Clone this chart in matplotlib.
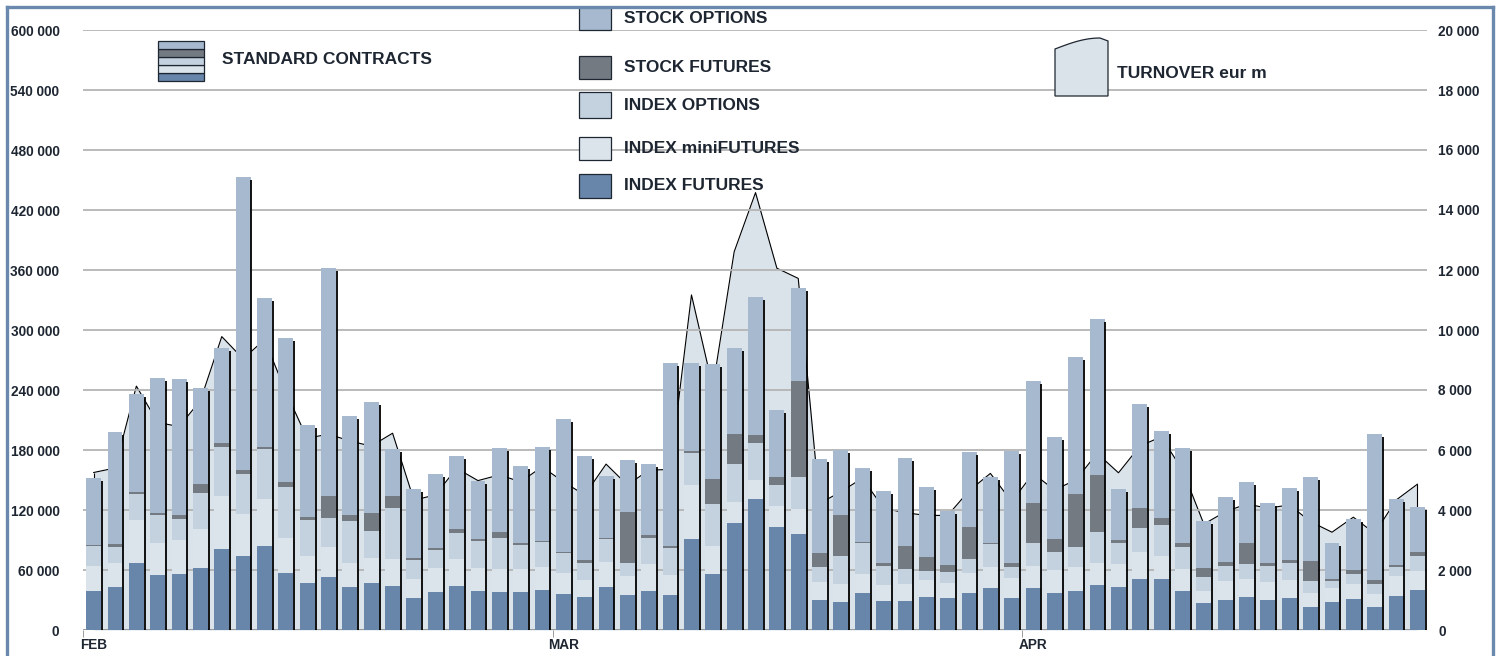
import matplotlib
matplotlib.use('Agg')
import matplotlib.pyplot as plt
from matplotlib.patches import Rectangle, Polygon
from matplotlib.lines import Line2D
import numpy as np

# daily standard contracts per product, Feb-Apr (63 trading days)
index_futures = [39300, 42700, 67300, 55000, 56000, 61700, 81000, 74000, 84300, 56700,
                 46700, 52700, 42700, 46700, 44000, 32000, 37700, 43700, 38700, 37700,
                 37700, 40000, 36000, 32700, 42700, 35000, 39300, 35000, 91000, 55700,
                 106700, 130700, 103300, 96000, 30000, 27700, 36700, 29300, 29300, 32700,
                 31700, 37300, 42300, 32300, 42300, 37300, 39000, 45000, 43300, 51000,
                 50700, 39300, 27300, 30000, 33300, 30000, 31700, 23300, 28300, 30700,
                 23300, 34000, 40000]
index_minifutures = [25000, 24600, 42400, 31700, 34000, 39000, 53300, 41700, 46400, 35600,
                     27600, 30000, 24000, 25000, 26700, 18700, 24000, 27000, 23300, 23000,
                     23000, 22700, 20700, 17300, 25000, 19300, 26400, 20000, 54000, 28600,
                     21000, 19300, 20700, 24700, 17700, 18000, 19000, 15700, 16700, 17300,
                     15000, 19400, 21000, 19400, 21700, 22700, 23700, 21700, 22400, 26700,
                     23300, 21400, 12000, 19000, 17400, 17700, 18300, 13400, 13400, 15300,
                     12400, 20000, 19300]
index_options = [19700, 16000, 26300, 28300, 20700, 36000, 48400, 40000, 50000, 50400,
                 35700, 29600, 42600, 27600, 51000, 19300, 18000, 26600, 27000, 31600,
                 24300, 25000, 20000, 16700, 23000, 13000, 26600, 26700, 31700, 41400,
                 38600, 36700, 20700, 32600, 15600, 28300, 31000, 19300, 14700, 9000,
                 11600, 14600, 22400, 11600, 23300, 17700, 20000, 31000, 21600, 24000,
                 31000, 22600, 13400, 15300, 15300, 16600, 17300, 12300, 7600, 9700,
                 10000, 9300, 15000]
stock_futures = [1300, 2700, 2000, 2300, 4300, 9300, 4000, 4300, 2600, 5000,
                 3000, 21700, 5700, 18000, 12300, 2300, 2600, 3700, 2000, 5700,
                 1700, 1600, 1600, 3300, 1600, 50700, 2700, 2300, 2300, 25300,
                 29700, 8300, 8000, 96000, 14000, 41000, 1600, 2400, 23600, 14300,
                 6700, 31400, 1600, 3400, 40000, 13000, 53300, 57300, 2700, 20600,
                 7300, 4000, 9000, 3400, 20700, 3000, 2700, 20300, 1700, 4300,
                 4300, 1700, 3400]
stock_options = [66400, 111700, 97700, 134400, 135700, 95700, 95600, 293300, 149000, 144000,
                 91700, 228300, 99000, 110400, 46700, 68700, 73700, 73300, 58000, 83700,
                 77300, 93400, 132400, 104000, 61700, 52000, 70700, 182700, 87700, 115000,
                 85700, 138000, 67300, 93000, 93400, 65000, 74000, 72600, 88000, 69400,
                 54000, 75300, 66000, 112600, 121700, 102600, 136700, 156300, 51000, 104000,
                 86700, 94400, 47600, 65000, 61600, 60000, 71700, 83400, 35700, 51000,
                 146000, 66000, 45300]
# daily turnover, eur m (right axis)
turnover = [5250, 5400, 8130, 6920, 6780, 7650, 9780, 9040, 9680, 7940,
            6390, 6530, 6300, 6130, 6560, 4330, 4500, 5390, 4980, 5170,
            4940, 5440, 4940, 4500, 5530, 4830, 5330, 5350, 11170, 8090,
            12610, 14580, 12060, 11720, 4220, 4610, 5060, 4060, 3910, 3820,
            3820, 4640, 5220, 4280, 5220, 4670, 5000, 5890, 5240, 6130,
            6440, 5330, 3530, 3940, 4200, 4060, 4170, 3610, 3260, 3760,
            3220, 4330, 4860]
month_labels = ['FEB', 'MAR', 'APR']
month_first_day = [0, 22, 44]

series = [index_futures, index_minifutures, index_options, stock_futures, stock_options]
colors = ['#6886aa', '#dbe3eb', '#c4d2df', '#737a82', '#a7b9ce']
names = ['INDEX FUTURES', 'INDEX miniFUTURES', 'INDEX OPTIONS', 'STOCK FUTURES', 'STOCK OPTIONS']
txt = '#1e2632'
fam = ['Liberation Sans', 'DejaVu Sans']

W, H = 1501, 656
fig = plt.figure(figsize=(W / 100, H / 100), dpi=100)

def fx(x):
    return x / W

def fy(y):
    return 1 - y / H

rect = [fx(83), fy(630), (1427 - 83) / W, 600 / H]
ax2 = fig.add_axes(rect)
ax = fig.add_axes(rect)
ax.set_zorder(ax2.get_zorder() + 1)
ax.patch.set_visible(False)

x = np.arange(len(turnover))
n = len(x)

# turnover area, behind the bars
ax2.fill_between(x, turnover, color='#dae2ea', lw=0, zorder=1)
ax2.plot(x, turnover, color='black', lw=0.8, zorder=1.2)
ax2.vlines([x[0], x[-1]], 0, [turnover[0], turnover[-1]], color='black', lw=0.8, zorder=1.2)
for g in range(2000, 20001, 2000):
    ax2.axhline(g, color='#b4b4b4', lw=1.3, zorder=2)
ax2.set_ylim(0, 20000)
ax2.set_xlim(-0.5, n - 0.55)
ax2.set_yticks(range(0, 20001, 2000))
ax2.set_yticklabels([f'{v:,}'.replace(',', ' ') for v in range(0, 20001, 2000)])
ax2.yaxis.tick_right()
ax2.tick_params(axis='y', length=0, pad=8)
ax2.set_xticks([])
for s in ax2.spines.values():
    s.set_visible(False)

# stacked bars
bw = 0.70
bottom = np.zeros(n)
for vals, c in zip(series, colors):
    ax.bar(x, vals, bw, bottom=bottom, color=c, lw=0, zorder=2)
    bottom += np.array(vals)
ax.vlines(x + bw / 2 + 0.04, 0, bottom - 3000, color='black', lw=1.3, zorder=3)
ax.axhline(0, color='#8a8a8a', lw=1.2, zorder=1.5)

ax.set_ylim(0, 600000)
ax.set_xlim(-0.5, n - 0.55)
ax.set_yticks(range(0, 600001, 60000))
ax.set_yticklabels([f'{v:,}'.replace(',', ' ') for v in range(0, 600001, 60000)])
ax.tick_params(axis='y', length=0, pad=17)
ax.set_xticks(month_first_day)
ax.set_xticklabels(month_labels)
ax.set_xticks([m - 0.5 for m in month_first_day], minor=True)
ax.tick_params(axis='x', which='major', length=0, pad=6)
ax.tick_params(axis='x', which='minor', length=5, color='#8a8a8a')
for s in ax.spines.values():
    s.set_visible(False)

for a in (ax, ax2):
    for lab in a.get_xticklabels() + a.get_yticklabels():
        lab.set_fontfamily(fam)
        lab.set_fontweight('bold')
        lab.set_fontsize(9.8)
        lab.set_color(txt)

# legend: stacked icon for standard contracts
stripe_y = [73, 65, 57, 49, 41]
for yy, c in zip(stripe_y, colors):
    fig.add_artist(Rectangle((fx(158), fy(yy + 8)), 46 / W, 8 / H, transform=fig.transFigure,
                             facecolor=c, edgecolor=txt, lw=0.9))
fig.text(fx(222), fy(60), 'STANDARD CONTRACTS', family=fam, weight='bold', size=12.5,
         color=txt, va='center')

# legend: product swatches
sw = {'STOCK OPTIONS': (7, 30), 'STOCK FUTURES': (56, 79), 'INDEX OPTIONS': (92, 118),
      'INDEX miniFUTURES': (137, 160), 'INDEX FUTURES': (174, 198)}
for name, c in zip(names, colors):
    y0, y1 = sw[name]
    fig.add_artist(Rectangle((fx(579), fy(y1)), 32 / W, (y1 - y0) / H, transform=fig.transFigure,
                             facecolor=c, edgecolor=txt, lw=0.9))
    fig.text(fx(624), fy((y0 + y1) / 2), name, family=fam, weight='bold', size=12.5,
             color=txt, va='center')

# legend: turnover icon
t = np.linspace(0, 1, 20)
top = [(fx(1055 + 45 * u), fy(49 - 11 * np.sin(u * np.pi / 2))) for u in t]
pts = [(fx(1055), fy(96))] + top + [(fx(1108), fy(41)), (fx(1108), fy(96))]
fig.add_artist(Polygon(pts, closed=True, transform=fig.transFigure,
                       facecolor='#dae2ea', edgecolor=txt, lw=0.9))
fig.text(fx(1117), fy(74), 'TURNOVER eur m', family=fam, weight='bold', size=12.5,
         color=txt, va='center')

# outer frame
fc = '#6a89ad'
for xs, ys in [([7, 7], [7, 660]), ([7, 1493], [7, 7]), ([1493, 1493], [7, 660])]:
    fig.add_artist(Line2D([fx(v) for v in xs], [fy(v) for v in ys], color=fc, lw=2.4,
                          transform=fig.transFigure))

fig.savefig('out.png', dpi=100)
